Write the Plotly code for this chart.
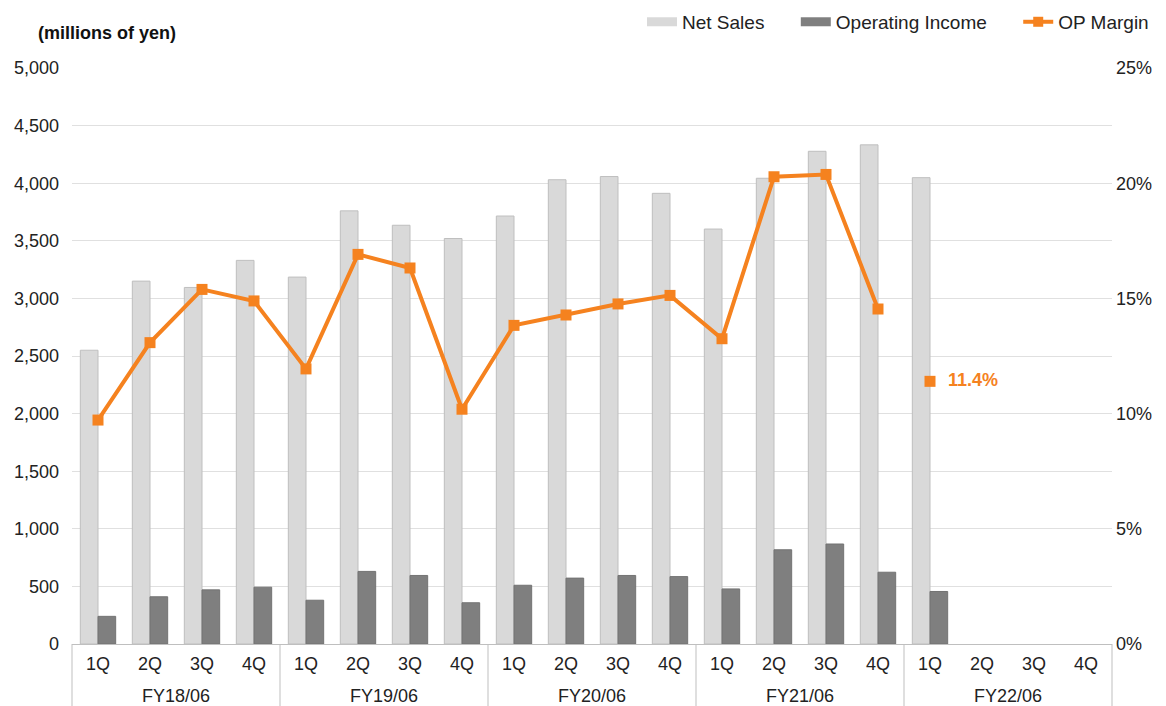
import plotly.graph_objects as go

fiscal_years = ["FY18/06", "FY19/06", "FY20/06", "FY21/06", "FY22/06"]
quarters = ["1Q", "2Q", "3Q", "4Q"]

net_sales = [2550, 3150, 3095, 3330,
             3185, 3760, 3635, 3520,
             3715, 4030, 4058, 3912,
             3602, 4043, 4277, 4333,
             4048, None, None, None]
operating_income = [240, 410, 470, 493,
                     380, 630, 595, 358,
                     510, 572, 595, 585,
                     478, 818, 868, 623,
                     456, None, None, None]
op_margin = [9.72, 13.08, 15.39, 14.89,
             11.94, 16.91, 16.32, 10.19,
             13.83, 14.28, 14.76, 15.13,
             13.25, 20.28, 20.38, 14.54,
             None, None, None, None]
latest_margin = [None] * 16 + [11.4, None, None, None]
latest_label = [""] * 16 + ["\u00a0\u00a011.4%", "", "", ""]

cat_ids = [f"{fy} {q}" for fy in fiscal_years for q in quarters]
q_text = [q for _ in fiscal_years for q in quarters]
n_cats = len(cat_ids)
n_q = len(quarters)

FONT = "Arial, Liberation Sans, sans-serif"
ORANGE = "#F5821F"
NS_FILL, NS_EDGE = "#D9D9D9", "#BFBFBF"
OI_FILL, OI_EDGE = "#7F7F7F", "#737373"

fig = go.Figure()
fig.add_trace(go.Bar(
    x=cat_ids, y=net_sales, name="Net Sales", showlegend=False,
    marker=dict(color=NS_FILL, line=dict(color=NS_EDGE, width=1)),
))
fig.add_trace(go.Bar(
    x=cat_ids, y=operating_income, name="Operating Income", showlegend=False,
    marker=dict(color=OI_FILL, line=dict(color=OI_EDGE, width=1)),
))
fig.add_trace(go.Scatter(
    x=cat_ids, y=op_margin, name="OP Margin", yaxis="y2",
    mode="lines+markers", showlegend=False,
    line=dict(color=ORANGE, width=4),
    marker=dict(symbol="square", size=11, color=ORANGE),
))
fig.add_trace(go.Scatter(
    x=cat_ids, y=latest_margin, name="OP Margin", yaxis="y2",
    mode="markers+text", showlegend=False,
    text=latest_label, textposition="middle right",
    textfont=dict(color=ORANGE, size=18, family=FONT, weight="bold"),
    marker=dict(symbol="square", size=11, color=ORANGE),
))

# legend entries (wide swatches like the original)
pad = "\u00a0" * 5
fig.add_trace(go.Scatter(x=[None], y=[None], mode="lines", name="Net Sales" + pad,
                         line=dict(color=NS_FILL, width=9)))
fig.add_trace(go.Scatter(x=[None], y=[None], mode="lines", name="Operating Income" + pad,
                         line=dict(color=OI_FILL, width=9)))
fig.add_trace(go.Scatter(x=[None], y=[None], mode="lines+markers", name="OP Margin",
                         line=dict(color=ORANGE, width=4),
                         marker=dict(symbol="square", size=10, color=ORANGE)))

shapes = []
for i in range(len(fiscal_years) + 1):
    xp = i * n_q / n_cats
    shapes.append(dict(type="line", xref="paper", yref="paper",
                       x0=xp, x1=xp, y0=0, y1=-0.2,
                       line=dict(color="#BFBFBF", width=1)))

annotations = [dict(
    text="<b>(millions of yen)</b>", xref="paper", yref="paper",
    x=-0.035, y=1.061, xanchor="left", yanchor="middle",
    showarrow=False, font=dict(size=18, color="#111111"),
)]
for i, fy in enumerate(fiscal_years):
    annotations.append(dict(
        text=fy, xref="paper", yref="paper",
        x=(i * n_q + n_q / 2) / n_cats, y=-0.0903,
        xanchor="center", yanchor="middle", showarrow=False,
        font=dict(size=18, color="#222222"),
    ))

fig.update_layout(
    width=1166, height=706,
    margin=dict(l=64, r=62, t=60, b=70, autoexpand=False),
    paper_bgcolor="white", plot_bgcolor="white",
    font=dict(family=FONT, size=18, color="#222222"),
    barmode="group", bargap=0.32, bargroupgap=0,
    showlegend=True,
    legend=dict(orientation="h", x=1.0404, xanchor="right", y=1.08, yanchor="middle",
                font=dict(size=19), itemwidth=30, traceorder="normal"),
    xaxis=dict(
        type="category", categoryorder="array", categoryarray=cat_ids,
        range=[-0.5, n_cats - 0.5], autorange=False,
        tickmode="array", tickvals=cat_ids, ticktext=q_text,
        showline=True, linecolor="#BFBFBF", linewidth=1,
        ticks="", ticklabelstandoff=3,
        tickfont=dict(size=18), showgrid=False, automargin=False,
    ),
    yaxis=dict(
        range=[0, 5000], dtick=500, tickformat=",d",
        showgrid=True, gridcolor="#E0E0E0", gridwidth=1,
        zeroline=False, showline=False, ticks="", ticklabelstandoff=12,
        tickfont=dict(size=18), automargin=False,
    ),
    yaxis2=dict(
        range=[0, 25], dtick=5, ticksuffix="%", overlaying="y", side="right",
        showgrid=False, zeroline=False, showline=False, ticklabelstandoff=3,
        tickfont=dict(size=18), automargin=False,
    ),
    shapes=shapes,
    annotations=annotations,
)

fig.write_html("out.html")
